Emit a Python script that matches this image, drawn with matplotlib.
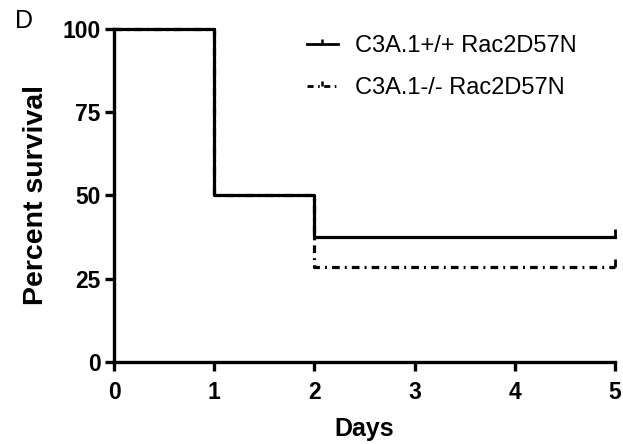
import matplotlib
matplotlib.use("Agg")
import matplotlib.pyplot as plt
from matplotlib.lines import Line2D

plt.rcParams["font.family"] = ["Liberation Sans", "DejaVu Sans"]

# Kaplan-Meier steps (percent survival)
days_wt = [0, 1, 2, 5]
surv_wt = [100, 50, 37.5, 37.5]
days_ko = [0, 1, 2, 5]
surv_ko = [100, 50, 28.6, 28.6]
labels = ["C3A.1+/+ Rac2D57N", "C3A.1-/- Rac2D57N"]
x_ticks = [0, 1, 2, 3, 4, 5]
y_ticks = [0, 25, 50, 75, 100]

# censor tick: short vertical stroke pointing up
censor = [(0, 0), (0, 1)]
dashdot = (0, (2.4, 1.6, 0.6, 1.6))

fig = plt.figure(figsize=(6.23, 4.44), dpi=100)
ax = fig.add_axes([0.183, 0.185, 0.804, 0.750])

lw = 2.3
ax.plot(days_ko, surv_ko, drawstyle="steps-post", color="black", lw=lw,
        ls=dashdot, zorder=2, clip_on=False)
ax.plot(days_wt, surv_wt, drawstyle="steps-post", color="black", lw=lw,
        zorder=3, clip_on=False)
ax.plot([days_wt[-1]], [surv_wt[-1]], marker=censor, ms=11, mew=2,
        color="black", ls="none", clip_on=False, zorder=4)
ax.plot([days_ko[-1]], [surv_ko[-1]], marker=censor, ms=11, mew=2,
        color="black", ls="none", clip_on=False, zorder=4)

ax.set_xlim(0, 5)
ax.set_ylim(0, 100)
ax.set_xticks(x_ticks)
ax.set_yticks(y_ticks)
for s in ["top", "right"]:
    ax.spines[s].set_visible(False)
for s in ["left", "bottom"]:
    ax.spines[s].set_linewidth(2.4)
ax.tick_params(width=2.4, length=6.5, direction="out", labelsize=16.5)
ax.tick_params(axis="x", pad=7)
ax.tick_params(axis="y", pad=3)
for lab in ax.get_xticklabels() + ax.get_yticklabels():
    lab.set_fontweight("bold")

ax.set_xlabel("Days", fontsize=18, fontweight="bold", labelpad=10)
ax.set_ylabel("Percent survival", fontsize=20.5, fontweight="bold", labelpad=10)

handles = [
    Line2D([0], [0], color="black", lw=2, marker=censor, ms=7, mew=1.8),
    Line2D([0], [0], color="black", lw=2, ls=(0, (2.2, 1.6, 0.6, 1.6)),
           marker=censor, ms=7, mew=1.8),
]
ax.legend(handles, labels, loc="upper left", bbox_to_anchor=(307 / 623, 1 - 35 / 444),
          bbox_transform=fig.transFigure, borderaxespad=0, borderpad=0,
          frameon=False, fontsize=17, handlelength=1.3, handletextpad=0.72,
          labelspacing=0.85)

fig.text(15 / 623, 1 - 9 / 444, "D", fontsize=18, va="top")

fig.savefig("out.png", dpi=100)
